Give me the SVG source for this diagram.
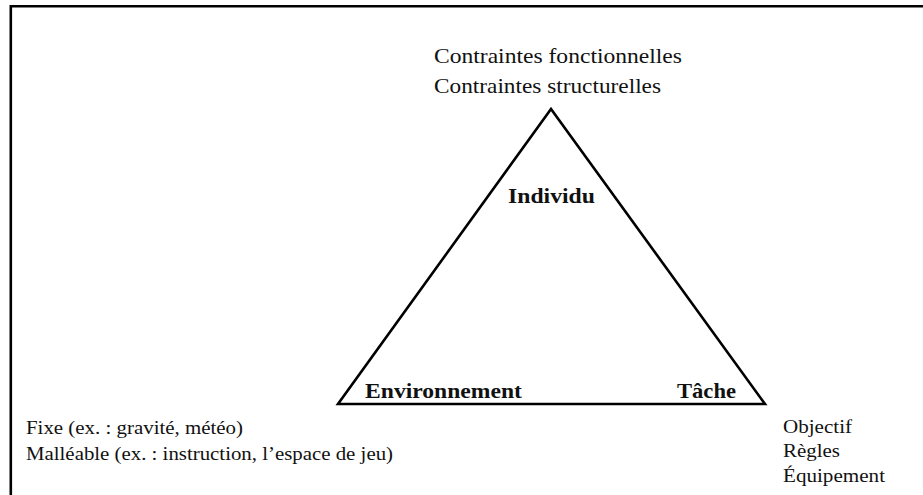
<svg xmlns="http://www.w3.org/2000/svg" width="923" height="495" viewBox="0 0 923 495">
<style>
.t{font-family:"Liberation Serif","Times New Roman",serif;fill:#111;}
.r{font-size:21px;}
.s{font-size:18px;}
.b{font-size:21px;font-weight:bold;}
.line{fill:none;stroke:#000;stroke-width:2.6;}
</style>
<rect x="0" y="0" width="923" height="495" fill="#fff"/>
<g id="frame"><path class="line" d="M10.8,500 V6.3 H930"/></g>
<g id="connectors">
<polygon class="line" points="551,109 338,404 765,404" stroke-linejoin="miter"/>
</g>
<g id="node-individu">
<text class="t r" x="434" y="63" textLength="248" lengthAdjust="spacingAndGlyphs">Contraintes fonctionnelles</text>
<text class="t r" x="434" y="93" textLength="227" lengthAdjust="spacingAndGlyphs">Contraintes structurelles</text>
<text class="t b" x="508" y="203" textLength="87" lengthAdjust="spacingAndGlyphs">Individu</text>
</g>
<g id="node-environnement">
<text class="t b" x="365" y="398" textLength="157" lengthAdjust="spacingAndGlyphs">Environnement</text>
<text class="t s" x="26" y="434" textLength="217" lengthAdjust="spacingAndGlyphs">Fixe (ex. : gravité, météo)</text>
<text class="t s" x="26" y="460" textLength="367" lengthAdjust="spacingAndGlyphs">Malléable (ex. : instruction, l’espace de jeu)</text>
</g>
<g id="node-tache">
<text class="t b" x="677" y="398" textLength="59" lengthAdjust="spacingAndGlyphs">Tâche</text>
<text class="t s" x="783" y="433" textLength="69" lengthAdjust="spacingAndGlyphs">Objectif</text>
<text class="t s" x="783" y="457" textLength="57" lengthAdjust="spacingAndGlyphs">Règles</text>
<text class="t s" x="783" y="482" textLength="102" lengthAdjust="spacingAndGlyphs">Équipement</text>
</g>
</svg>
